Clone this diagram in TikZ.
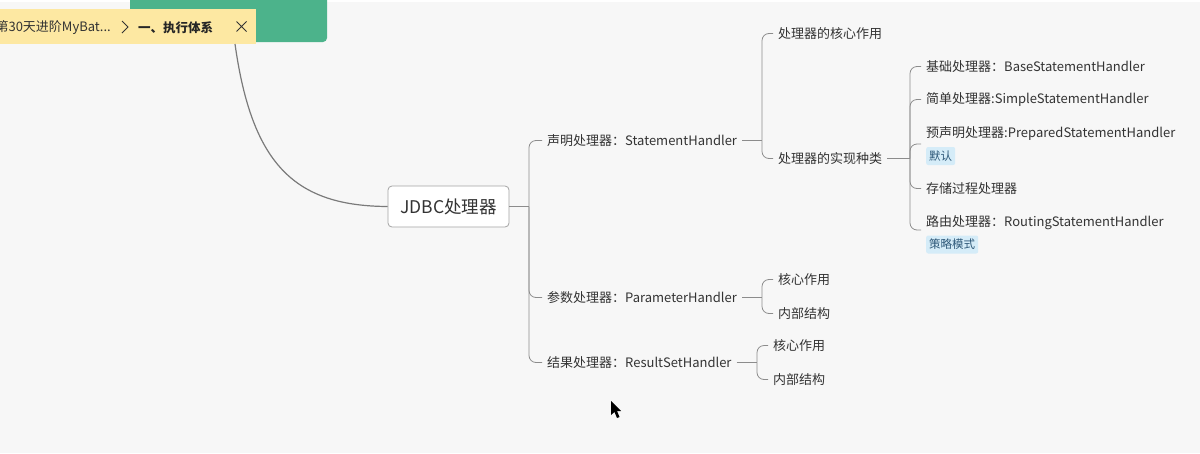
\documentclass[tikz,border=0pt]{standalone}
\usepackage{fontspec}
\setmainfont{Noto Sans CJK SC}
\begin{document}
\begin{tikzpicture}[x=1pt,y=-1pt]
\definecolor{bgc}{HTML}{F7F7F7}
\definecolor{linec}{HTML}{8C8C8C}
\definecolor{curvec}{HTML}{7A7A7A}
\definecolor{textc}{HTML}{333333}
\definecolor{greenc}{HTML}{4CB38B}
\definecolor{yellowc}{HTML}{FDE8A2}
\definecolor{tagbg}{HTML}{D5ECF8}
\definecolor{tagtext}{HTML}{2E5878}
\tikzset{
  lbl/.style={anchor=west, inner xsep=5pt, inner ysep=2pt, font=\fontsize{13}{15}\selectfont, text=textc},
  tagbox/.style={fill=tagbg, rounded corners=2pt, inner xsep=3pt, inner ysep=2pt, minimum height=18pt, font=\fontsize{11.5}{12}\selectfont, text=tagtext},
  conn/.style={draw=linec, line width=0.8pt, rounded corners=7pt},
  rootbox/.style={draw=linec!80, fill=white, rounded corners=4pt, minimum width=121pt, minimum height=41pt, line width=0.8pt, font=\fontsize{17.5}{20}\selectfont, text=textc}
}
\useasboundingbox (0,0) rectangle (1200,453);
\clip (0,0) rectangle (1200,453);
\fill[bgc] (0,0) rectangle (1200,453);
\fill[white] (0,0) rectangle (1200,2);
% top bar
\fill[greenc, rounded corners=4pt] (130,-10) rectangle (327,42);
\fill[yellowc] (0,9) rectangle (256,44);
\node[anchor=east, inner sep=0pt, font=\fontsize{13}{15}\selectfont, text=textc] (crumb) at (111,27.5) {第30天进阶MyBat...};
\draw[textc, line width=0.8pt] (122,21) -- (128,27) -- (122,33);
\node[anchor=west, inner sep=0pt, font=\bfseries\fontsize{12.5}{14}\selectfont, text=black!85] (sect) at (138,27.5) {一、执行体系};
\draw[textc, line width=0.9pt] (236.5,21.5) -- (246.5,31.5) (246.5,21.5) -- (236.5,31.5);
\coordinate (top) at (235,44);
% root
\node[rootbox] (root) at (448.5,206.5) {JDBC处理器};
\draw[curvec, line width=1.2pt] (top) .. controls (252,165) and (295,206) .. (root.west);
% level 1
\coordinate (j1) at (529,206.5);
\node[lbl] (s1) at (542,140.5) {声明处理器：StatementHandler};
\node[lbl] (p1) at (542,297.5) {参数处理器：ParameterHandler};
\node[lbl] (r1) at (542,362.5) {结果处理器：ResultSetHandler};
\draw[conn] (root.east) -- (j1);
\draw[conn] (j1) |- (s1.west);
\draw[conn] (j1) |- (p1.west);
\draw[conn] (j1) |- (r1.west);
% statement handler children
\coordinate (j2) at (762,140.5);
\node[lbl] (c1) at (773,33.5) {处理器的核心作用};
\node[lbl] (c2) at (773,158.5) {处理器的实现种类};
\draw[conn] (s1.east) -- (j2);
\draw[conn] (j2) |- (c1.west);
\draw[conn] (j2) |- (c2.west);
% implementations
\coordinate (j3) at (910,158.5);
\node[lbl] (b1) at (921,66.5) {基础处理器：BaseStatementHandler};
\node[lbl] (b2) at (921,99.5) {简单处理器:SimpleStatementHandler};
\node[lbl] (b3) at (921,133.5) {预声明处理器:PreparedStatementHandler};
\node[tagbox, anchor=west] (t3) at (926,156) {默认};
\coordinate (b3c) at (921,144);
\node[lbl] (b4) at (921,188.5) {存储过程处理器};
\node[lbl] (b5) at (921,222.5) {路由处理器：RoutingStatementHandler};
\node[tagbox, anchor=west] (t5) at (926,244.5) {策略模式};
\coordinate (b5c) at (921,230);
\draw[conn] (c2.east) -- (j3);
\draw[conn] (j3) |- (b1.west);
\draw[conn] (j3) |- (b2.west);
\draw[conn] (j3) |- (b3c);
\draw[conn] (j3) |- (b4.west);
\draw[conn] (j3) |- (b5c);
% parameter handler children
\coordinate (j4) at (762,297.5);
\node[lbl] (p1a) at (773,279.5) {核心作用};
\node[lbl] (p1b) at (773,313.5) {内部结构};
\draw[conn] (p1.east) -- (j4);
\draw[conn] (j4) |- (p1a.west);
\draw[conn] (j4) |- (p1b.west);
% result handler children
\coordinate (j5) at (757,362.5);
\node[lbl] (r1a) at (768,345.5) {核心作用};
\node[lbl] (r1b) at (768,379.5) {内部结构};
\draw[conn] (r1.east) -- (j5);
\draw[conn] (j5) |- (r1a.west);
\draw[conn] (j5) |- (r1b.west);
% mouse cursor
\fill[black] (611,401) -- (611,415) -- (614.5,412) -- (617,418) -- (619.5,417) -- (617,411) -- (621,411) -- cycle;
\end{tikzpicture}
\end{document}
